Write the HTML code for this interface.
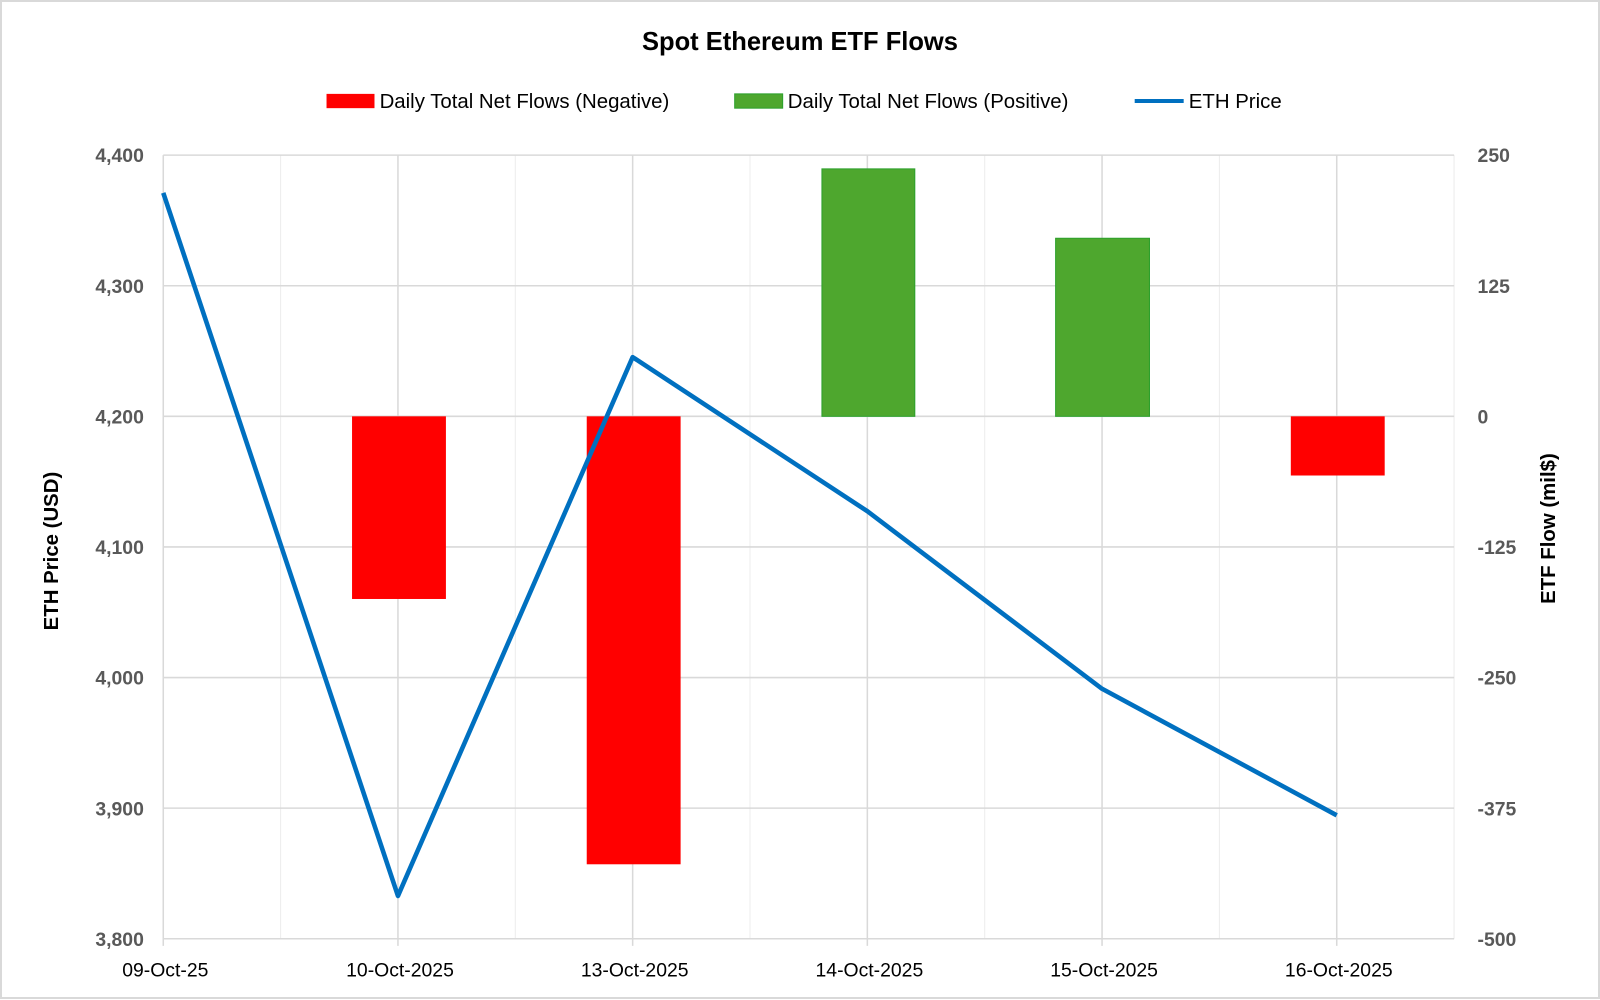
<!DOCTYPE html>
<html><head><meta charset="utf-8"><style>
html,body{margin:0;padding:0;background:#fff;}
svg{display:block;font-family:"Liberation Sans",sans-serif;}
</style></head><body>
<svg width="1600" height="1000" viewBox="0 0 1600 1000">
<rect x="1" y="1" width="1598" height="997" fill="#fff" stroke="#d9d9d9" stroke-width="2"/>
<g transform="scale(1.020408)">
<text x="784" y="49" text-anchor="middle" font-size="25" font-weight="bold" fill="#000">Spot Ethereum ETF Flows</text>
<rect x="320" y="92" width="47" height="14" fill="#ff0000"/>
<text x="372" y="106" font-size="20" fill="#000">Daily Total Net Flows (Negative)</text>
<rect x="720" y="92" width="47" height="14" fill="#4ea72e" stroke="#2ca02c"/>
<text x="772" y="106" font-size="20" fill="#000">Daily Total Net Flows (Positive)</text>
<line x1="1112" y1="99" x2="1160" y2="99" stroke="#0070c0" stroke-width="4"/>
<text x="1165" y="106" font-size="20" fill="#000">ETH Price</text>
<g stroke="#ececec" stroke-width="1">
<line x1="275" y1="152" x2="275" y2="920"/><line x1="505" y1="152" x2="505" y2="920"/>
<line x1="735" y1="152" x2="735" y2="920"/><line x1="965" y1="152" x2="965" y2="920"/>
<line x1="1195" y1="152" x2="1195" y2="920"/><line x1="1425" y1="152" x2="1425" y2="920"/>
</g>
<g stroke="#d9d9d9" stroke-width="1.5">
<line x1="160" y1="152" x2="1425" y2="152"/><line x1="160" y1="280" x2="1425" y2="280"/>
<line x1="160" y1="408" x2="1425" y2="408"/><line x1="160" y1="536" x2="1425" y2="536"/>
<line x1="160" y1="664" x2="1425" y2="664"/><line x1="160" y1="792" x2="1425" y2="792"/>
<line x1="160" y1="920" x2="1425" y2="920"/>
<line x1="160" y1="152" x2="160" y2="927"/><line x1="390" y1="152" x2="390" y2="927"/>
<line x1="620" y1="152" x2="620" y2="927"/><line x1="850" y1="152" x2="850" y2="927"/>
<line x1="1080" y1="152" x2="1080" y2="927"/><line x1="1310" y1="152" x2="1310" y2="927"/>
</g>
<rect x="345" y="408" width="92" height="179" fill="#ff0000"/>
<rect x="575" y="408" width="92" height="439" fill="#ff0000"/>
<rect x="805.5" y="165.5" width="91" height="242.5" fill="#4ea72e" stroke="#2ca02c"/>
<rect x="1034.5" y="233.5" width="92" height="174.5" fill="#4ea72e" stroke="#2ca02c"/>
<rect x="1265" y="408" width="92" height="58" fill="#ff0000"/>
<polyline points="160,189 390,878 620,350 850,501 1080,675 1310,799" fill="none" stroke="#0070c0" stroke-width="4.5" stroke-linejoin="round"/>
<g font-size="19" font-weight="bold" fill="#595959" text-anchor="end">
<text x="141" y="159">4,400</text><text x="141" y="287">4,300</text><text x="141" y="415">4,200</text>
<text x="141" y="543">4,100</text><text x="141" y="671">4,000</text><text x="141" y="799">3,900</text><text x="141" y="927">3,800</text>
</g>
<g font-size="19" font-weight="bold" fill="#595959" text-anchor="start">
<text x="1448" y="159">250</text><text x="1448" y="287">125</text><text x="1448" y="415">0</text>
<text x="1448" y="543">-125</text><text x="1448" y="671">-250</text><text x="1448" y="799">-375</text><text x="1448" y="927">-500</text>
</g>
<g font-size="19" fill="#000" text-anchor="middle">
<text x="162" y="957">09-Oct-25</text><text x="392" y="957">10-Oct-2025</text><text x="622" y="957">13-Oct-2025</text>
<text x="852" y="957">14-Oct-2025</text><text x="1082" y="957">15-Oct-2025</text><text x="1312" y="957">16-Oct-2025</text>
</g>
<text transform="translate(57,540) rotate(-90)" text-anchor="middle" font-size="20" font-weight="bold" fill="#000">ETH Price (USD)</text>
<text transform="translate(1524,518) rotate(-90)" text-anchor="middle" font-size="20" font-weight="bold" fill="#000">ETF Flow (mil$)</text>
</g>
</svg>
</body></html>
